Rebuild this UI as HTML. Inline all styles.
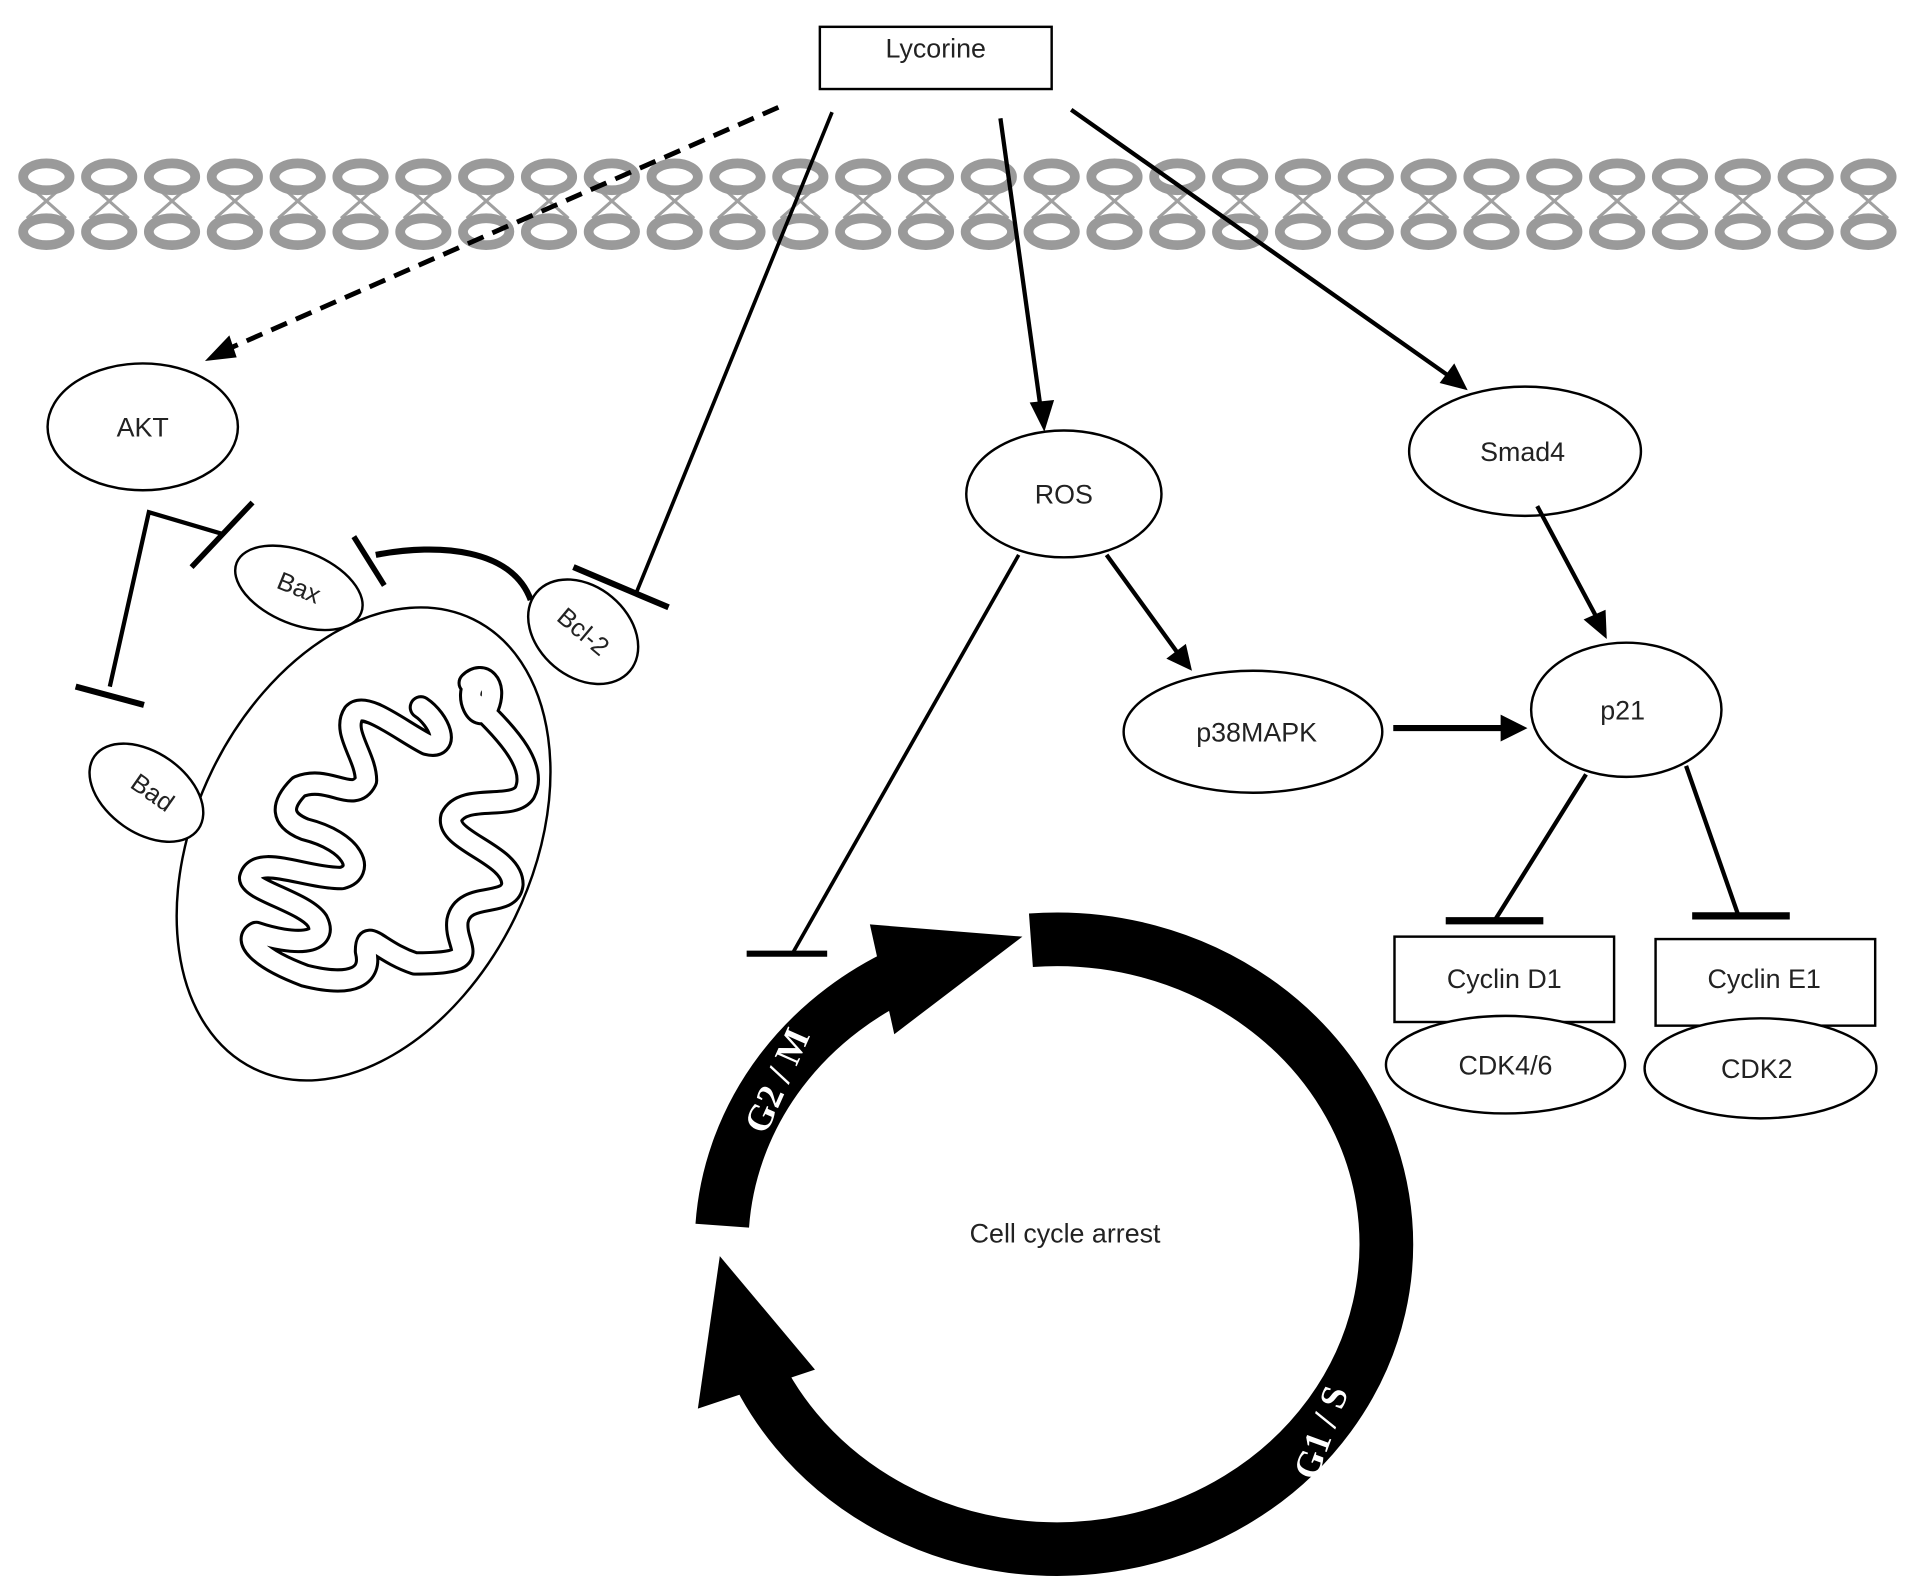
<!DOCTYPE html>
<html><head><meta charset="utf-8"><style>
html,body{margin:0;padding:0;background:#fff;}
svg{display:block;}
.sans{font-family:"Liberation Sans",sans-serif;}
</style></head><body>
<svg width="1913" height="1583" viewBox="0 0 1568 1298" preserveAspectRatio="none" xmlns="http://www.w3.org/2000/svg">
<defs>
<g id="mem">
<ellipse cx="0" cy="0" rx="19" ry="11" fill="#fff" stroke="#9a9a9a" stroke-width="8"/>
</g>
<path id="cr" d="M385,560 C395,550 408,560 400,580 C392,595 380,570 390,560 M388,575 C420,605 440,630 430,650 C420,665 380,650 370,670 C365,690 420,700 420,725 C418,745 380,730 375,755 C372,778 400,790 340,790 C310,780 300,760 300,780 C305,800 290,810 250,800 C210,785 200,770 210,765 C240,775 270,775 260,755 C250,740 205,730 205,720 C210,700 250,720 280,720 C300,715 290,690 250,680 C230,672 230,660 245,645 C270,635 290,660 300,640 C300,620 280,600 290,585 C300,575 330,600 350,610 C370,615 360,590 345,580"/>
</defs>
<rect width="1568" height="1298" fill="#fff"/>

<g stroke="#a0a0a0" stroke-width="2.5" fill="none" id="zig"></g>
<g id="membrane"></g>
<script>
(function(){
 var ns="http://www.w3.org/2000/svg";
 var m=document.getElementById('membrane'), z=document.getElementById('zig');
 for(var i=0;i<30;i++){
  var x=38+i*51.5;
  [145,190].forEach(function(y){
   var u=document.createElementNS(ns,'use');
   u.setAttribute('href','#mem');u.setAttribute('x',x);u.setAttribute('y',y);
   m.appendChild(u);
  });
  var p=document.createElementNS(ns,'path');
  p.setAttribute('d','M'+(x-10)+',156 L'+(x+16)+',179 M'+(x+10)+',156 L'+(x-16)+',179');
  z.appendChild(p);
 }
})();
</script>

<g class="sans">
<rect x="672" y="22" width="190" height="51" fill="#fff" stroke="#000" stroke-width="2"/>
<text x="767" y="47" font-size="22" text-anchor="middle" fill="#222">Lycorine</text>
</g>

<line x1="638" y1="88" x2="185" y2="287" stroke="#000" stroke-width="4" stroke-dasharray="14,8"/>
<polygon points="168,296 188,275 194,293" fill="#000"/>
<line x1="682" y1="92" x2="522" y2="485" stroke="#000" stroke-width="3"/>
<line x1="470" y1="465" x2="548" y2="498" stroke="#000" stroke-width="5"/>
<line x1="820" y1="97" x2="853" y2="335" stroke="#000" stroke-width="3.5"/>
<polygon points="856,354 844,330 864,328" fill="#000"/>
<line x1="878" y1="90" x2="1190" y2="310" stroke="#000" stroke-width="3.5"/>
<polygon points="1203,320 1180,314 1192,298" fill="#000"/>

<g fill="#fff" stroke="#000" stroke-width="2">
<ellipse cx="117" cy="350" rx="78" ry="52"/>
<ellipse cx="872" cy="405" rx="80" ry="52"/>
<ellipse cx="1250" cy="370" rx="95" ry="53"/>
<ellipse cx="1333" cy="582" rx="78" ry="55"/>
<ellipse cx="1027" cy="600" rx="106" ry="50"/>
<rect x="1143" y="768" width="180" height="70"/>
<rect x="1357" y="770" width="180" height="71"/>
<ellipse cx="1234" cy="873" rx="98" ry="40"/>
<ellipse cx="1443" cy="876" rx="95" ry="41"/>
</g>
<g class="sans" font-size="22" text-anchor="middle" fill="#222">
<text x="117" y="358">AKT</text>
<text x="872" y="413">ROS</text>
<text x="1248" y="378">Smad4</text>
<text x="1330" y="590">p21</text>
<text x="1030" y="608">p38MAPK</text>
<text x="1233" y="810">Cyclin D1</text>
<text x="1446" y="810">Cyclin E1</text>
<text x="1234" y="881">CDK4/6</text>
<text x="1440" y="884">CDK2</text>
<text x="873" y="1019">Cell cycle arrest</text>
</g>

<line x1="1260" y1="415" x2="1308" y2="505" stroke="#000" stroke-width="3.5"/>
<polygon points="1317,524 1298,508 1316,500" fill="#000"/>
<line x1="907" y1="455" x2="965" y2="535" stroke="#000" stroke-width="3.5"/>
<polygon points="977,550 956,540 972,528" fill="#000"/>
<line x1="1142" y1="597" x2="1232" y2="597" stroke="#000" stroke-width="5"/>
<polygon points="1252,597 1230,586 1230,608" fill="#000"/>
<line x1="1300" y1="635" x2="1225" y2="755" stroke="#000" stroke-width="3.5"/>
<line x1="1185" y1="755" x2="1265" y2="755" stroke="#000" stroke-width="6"/>
<line x1="1382" y1="628" x2="1425" y2="751" stroke="#000" stroke-width="3.5"/>
<line x1="1387" y1="751" x2="1467" y2="751" stroke="#000" stroke-width="6"/>
<line x1="835" y1="455" x2="650" y2="781" stroke="#000" stroke-width="3"/>
<line x1="612" y1="782" x2="678" y2="782" stroke="#000" stroke-width="5"/>

<polyline points="90,563 122,420 183,438" fill="none" stroke="#000" stroke-width="3.5"/>
<line x1="157" y1="465" x2="207" y2="412" stroke="#000" stroke-width="4.5"/>
<line x1="62" y1="563" x2="118" y2="578" stroke="#000" stroke-width="5"/>
<path d="M435,492 C420,450 360,445 308,455" fill="none" stroke="#000" stroke-width="5"/>
<line x1="290" y1="440" x2="315" y2="480" stroke="#000" stroke-width="4.5"/>

<ellipse cx="298" cy="692" rx="138" ry="205" transform="rotate(26 298 692)" fill="#fff" stroke="#000" stroke-width="2"/>
<g fill="none" stroke-linejoin="round" stroke-linecap="round">
<use href="#cr" stroke="#000" stroke-width="20"/>
<use href="#cr" stroke="#fff" stroke-width="15"/>
</g>
<g fill="#fff" stroke="#000" stroke-width="2">
<ellipse cx="245" cy="482" rx="55" ry="30" transform="rotate(22 245 482)"/>
<ellipse cx="478" cy="518" rx="50" ry="37" transform="rotate(40 478 518)"/>
<ellipse cx="120" cy="650" rx="52" ry="33" transform="rotate(35 120 650)"/>
</g>
<g class="sans" font-size="21" text-anchor="middle" fill="#222">
<text x="245" y="489" transform="rotate(22 245 482)">Bax</text>
<text x="478" y="525" transform="rotate(40 478 518)">Bcl-2</text>
<text x="125" y="657" transform="rotate(35 125 650)">Bad</text>
</g>

<g fill="none" stroke="#000" stroke-width="44">
<path d="M845,771 A270,250 0 1 1 608,1093"/>
<path d="M592,1005 A270,250 0 0 1 752,793"/>
</g>
<polygon points="572,1155 590,1030 668,1123" fill="#000"/>
<polygon points="713,758 838,768 733,848" fill="#000"/>
<g style="font-family:'Liberation Serif',serif;font-weight:bold" font-size="30" fill="#fff" text-anchor="middle">
<text x="646" y="890" transform="rotate(-66 646 890)">G2 / M</text>
<text x="1092" y="1178" transform="rotate(-70 1092 1178)">G1 / S</text>
</g>
</svg>
</body></html>
